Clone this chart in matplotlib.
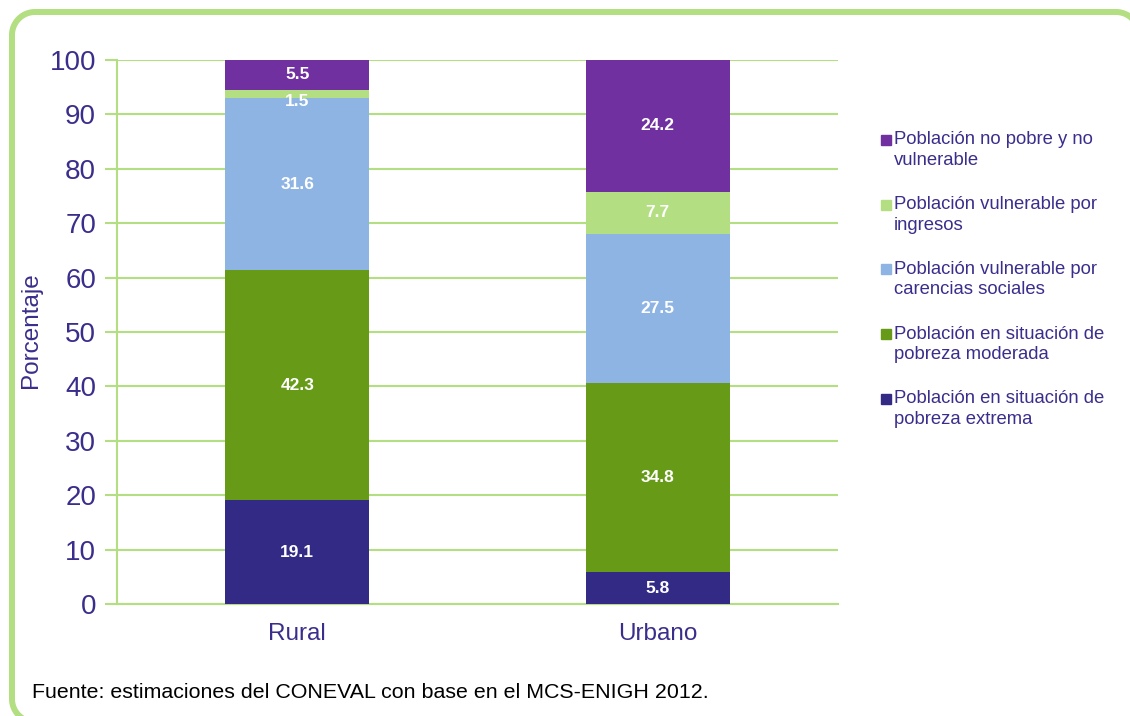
import numpy as np
import matplotlib.pyplot as plt
from matplotlib.patches import Rectangle
from matplotlib.lines import Line2D
from matplotlib.transforms import Affine2D

# Data
categorias = ["Rural", "Urbano"]
series = [
    "Población en situación de\npobreza extrema",
    "Población en situación de\npobreza moderada",
    "Población vulnerable por\ncarencias sociales",
    "Población vulnerable por\ningresos",
    "Población no pobre y no\nvulnerable",
]
extrema = [19.1, 5.8]
moderada = [42.3, 34.8]
carencias = [31.6, 27.5]
ingresos = [1.5, 7.7]
no_pobre = [5.5, 24.2]
valores = [extrema, moderada, carencias, ingresos, no_pobre]
colores = ["#332A86", "#669A17", "#8EB4E3", "#B3DE81", "#7030A0"]
etiquetas_y = [0, 10, 20, 30, 40, 50, 60, 70, 80, 90, 100]

texto = "#3A2E8C"
verde = "#B3DE81"
W, H = 1130, 716

plt.rcParams['font.family'] = ['Liberation Sans', 'DejaVu Sans']

fig = plt.figure(figsize=(11.3, 7.16), dpi=100)
ax = fig.add_axes([117 / W, 1 - 604 / H, 721 / W, 544 / H])

# rounded frame, pixel units (y up); right and bottom run off the canvas
def arco(cx, cy, r, a0, a1):
    t = np.radians(np.linspace(a0, a1, 30))
    return list(cx + r * np.cos(t)), list(cy + r * np.sin(t))

r = 23
izq, der, arriba, abajo = 12, 1139, H - 12, -6
bx, by = [1300], [abajo]
ax1, ay1 = arco(izq + r, abajo + r, r, 270, 180)
ax2, ay2 = arco(izq + r, arriba - r, r, 180, 90)
ax3, ay3 = arco(der - r, arriba - r, r, 90, 0)
bx += ax1 + ax2 + ax3 + [der]
by += ay1 + ay2 + ay3 + [-50]
fig.add_artist(Line2D(bx, by, color=verde, linewidth=4.3,
                      transform=Affine2D().scale(1 / 100) + fig.dpi_scale_trans,
                      clip_on=False))

x = np.arange(len(categorias))
base = np.zeros(len(categorias))
for vals, col, nom in zip(valores, colores, series):
    ax.bar(x, vals, 0.4, bottom=base, color=col, label=nom, zorder=3)
    for xi, v, b0 in zip(x, vals, base):
        yy = b0 + v / 2
        if v < 3:
            yy = b0 + v / 2 - 1.3
        ax.text(xi, yy, f"{v:.1f}", ha="center", va="center", color="white",
                fontsize=12.5, fontweight="bold", zorder=4)
    base = base + np.array(vals)

ax.set_xlim(-0.5, 1.5)
ax.set_ylim(0, 100)
ax.set_yticks(etiquetas_y)
ax.set_xticks(x)
ax.set_xticklabels(categorias, fontsize=17.5, color=texto)
ax.tick_params(axis="y", labelsize=20, labelcolor=texto, color=verde,
               length=9, width=1.5, pad=6)
ax.tick_params(axis="x", length=0, pad=14)
ax.grid(axis="y", color=verde, linewidth=1.5, zorder=0)
for s in ["top", "right"]:
    ax.spines[s].set_visible(False)
ax.spines["left"].set_color(verde)
ax.spines["left"].set_linewidth(1.5)
ax.spines["bottom"].set_color(verde)
ax.spines["bottom"].set_linewidth(1.5)
ax.set_ylabel("Porcentaje", fontsize=17.5, color=texto)
ax.yaxis.set_label_coords(-0.104, 0.504)

# legend drawn by hand: marker next to the first line of each entry
y0 = 140
paso = 64.7
for i, (nom, col) in enumerate(zip(series[::-1], colores[::-1])):
    yc = y0 + i * paso
    fig.patches.append(Rectangle((881 / W, 1 - (yc + 5) / H), 10 / W, 10 / H,
                                 transform=fig.transFigure, color=col))
    for j, linea in enumerate(nom.split("\n")):
        fig.text(894 / W, 1 - (yc + j * 20.5) / H, linea, fontsize=13.3,
                 color=texto, va="center", ha="left")

fig.text(32 / W, 1 - 693 / H, "Fuente: estimaciones del CONEVAL con base en el MCS-ENIGH 2012.",
         fontsize=15.4, color="black", va="center")

fig.savefig("out.png", dpi=100)
